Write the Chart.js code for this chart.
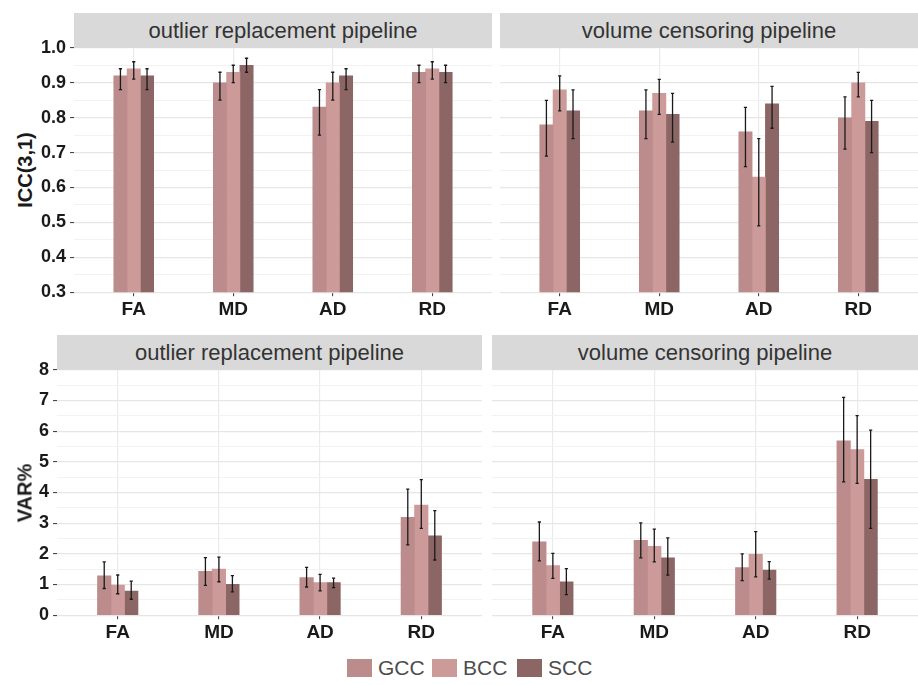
<!DOCTYPE html>
<html>
<head>
<meta charset="utf-8">
<script src="https://cdn.jsdelivr.net/npm/chart.js@4.4.1/dist/chart.umd.min.js"></script>
<style>
  body { margin: 0; background: #fff; }
  #page { position: relative; width: 918px; height: 685px; overflow: hidden; background: #fff;
          font-family: "Liberation Sans", Arial, Helvetica, sans-serif; }
  canvas { position: absolute; }
  .strip { position: absolute; background: #d9d9d9; color: #333; font-size: 22px;
           display: flex; align-items: center; justify-content: center; z-index: 2; }
  .ytitle { position: absolute; font-size: 20px; font-weight: bold; color: #1a1a1a;
            transform: translate(-50%, -50%) rotate(-90deg); white-space: nowrap; }
  .key { position: absolute; width: 25px; height: 18px; }
  .keytxt { position: absolute; font-size: 21px; color: #4d4d4d; line-height: 18px; }
</style>
</head>
<body>
<div id="page">
  <canvas id="c1"></canvas>
  <canvas id="c2"></canvas>
  <canvas id="c3"></canvas>
  <canvas id="c4"></canvas>
  <div class="strip" style="left:74px;top:13px;width:418px;height:35px">outlier replacement pipeline</div>
  <div class="strip" style="left:500px;top:13px;width:418px;height:35px">volume censoring pipeline</div>
  <div class="strip" style="left:57px;top:335px;width:425px;height:35px">outlier replacement pipeline</div>
  <div class="strip" style="left:492px;top:335px;width:426px;height:35px">volume censoring pipeline</div>
  <div class="ytitle" style="left:25px;top:170px">ICC(3,1)</div>
  <div class="ytitle" style="left:25px;top:493px">VAR%</div>
  <div id="legend"></div>
</div>
<script>
// categories and groups
const categories = ['FA', 'MD', 'AD', 'RD'];
const seriesNames = ['GCC', 'BCC', 'SCC'];
const seriesColors = ['#bc8b8b', '#cd9a9a', '#8c6565'];

// ICC(3,1), outlier replacement pipeline
const icc_or_gcc = [0.92, 0.90, 0.83, 0.93];
const icc_or_bcc = [0.94, 0.93, 0.90, 0.94];
const icc_or_scc = [0.92, 0.95, 0.92, 0.93];
const icc_or_gcc_err = [[0.88, 0.94], [0.85, 0.93], [0.75, 0.88], [0.90, 0.95]];
const icc_or_bcc_err = [[0.91, 0.96], [0.90, 0.95], [0.85, 0.93], [0.91, 0.96]];
const icc_or_scc_err = [[0.88, 0.94], [0.93, 0.97], [0.88, 0.94], [0.90, 0.95]];

// ICC(3,1), volume censoring pipeline
const icc_vc_gcc = [0.78, 0.82, 0.76, 0.80];
const icc_vc_bcc = [0.88, 0.87, 0.63, 0.90];
const icc_vc_scc = [0.82, 0.81, 0.84, 0.79];
const icc_vc_gcc_err = [[0.69, 0.85], [0.74, 0.88], [0.66, 0.83], [0.71, 0.86]];
const icc_vc_bcc_err = [[0.82, 0.92], [0.81, 0.91], [0.49, 0.74], [0.86, 0.93]];
const icc_vc_scc_err = [[0.74, 0.88], [0.73, 0.87], [0.77, 0.89], [0.70, 0.85]];

// VAR%, outlier replacement pipeline
const var_or_gcc = [1.28, 1.43, 1.23, 3.19];
const var_or_bcc = [0.98, 1.50, 1.06, 3.59];
const var_or_scc = [0.79, 1.01, 1.06, 2.59];
const var_or_gcc_err = [[0.87, 1.74], [0.97, 1.88], [0.92, 1.56], [2.29, 4.11]];
const var_or_bcc_err = [[0.70, 1.31], [1.09, 1.89], [0.79, 1.33], [2.83, 4.42]];
const var_or_scc_err = [[0.52, 1.11], [0.76, 1.29], [0.90, 1.21], [1.80, 3.41]];

// VAR%, volume censoring pipeline
const var_vc_gcc = [2.39, 2.44, 1.55, 5.69];
const var_vc_bcc = [1.62, 2.25, 1.99, 5.40];
const var_vc_scc = [1.09, 1.87, 1.47, 4.43];
const var_vc_gcc_err = [[1.77, 3.04], [1.87, 3.01], [1.13, 2.00], [4.35, 7.11]];
const var_vc_bcc_err = [[1.20, 2.02], [1.74, 2.81], [1.25, 2.73], [4.30, 6.51]];
const var_vc_scc_err = [[0.67, 1.52], [1.31, 2.52], [1.18, 1.75], [2.83, 6.04]];

Chart.defaults.font.family = '"Liberation Sans", Arial, Helvetica, sans-serif';

const errorBars = {
    id: 'errorBars',
    afterDatasetsDraw(chart) {
        const ctx = chart.ctx;
        const y = chart.scales.y;
        ctx.save();
        ctx.strokeStyle = '#1a1a1a';
        ctx.lineWidth = 1.3;
        chart.data.datasets.forEach((ds, di) => {
            chart.getDatasetMeta(di).data.forEach((bar, i) => {
                const yl = y.getPixelForValue(ds.errors[i][0]);
                const yh = y.getPixelForValue(ds.errors[i][1]);
                ctx.beginPath();
                ctx.moveTo(bar.x, yl); ctx.lineTo(bar.x, yh);
                ctx.moveTo(bar.x - 1.6, yl); ctx.lineTo(bar.x + 1.6, yl);
                ctx.moveTo(bar.x - 1.6, yh); ctx.lineTo(bar.x + 1.6, yh);
                ctx.stroke();
            });
        });
        ctx.restore();
    }
};

const makeConfig = (values, errors, yMin, yMax, minorStep, majorStep, showY, barW) => {
    const isMajor = v => Math.abs(v / majorStep - Math.round(v / majorStep)) < 1e-6;
    return {
        type: 'bar',
        data: {
            datasets: values.map((vals, s) => ({
                label: seriesNames[s],
                data: vals.map((v, i) => ({x: i + 1, y: v})),
                errors: errors[s],
                backgroundColor: seriesColors[s],
                borderWidth: 0,
                barThickness: barW
            }))
        },
        options: {
            responsive: false,
            animation: false,
            layout: {padding: 0},
            plugins: {legend: {display: false}, tooltip: {enabled: false}},
            scales: {
                x: {
                    type: 'linear',
                    min: 0.4,
                    max: 4.6,
                    offset: false,
                    afterBuildTicks: s => { s.ticks = categories.map((c, i) => ({value: i + 1})); },
                    grid: {offset: false, color: '#ebebeb', lineWidth: 1.2, tickLength: 4, tickColor: '#333', tickWidth: 1},
                    border: {display: false},
                    ticks: {
                        autoSkip: false,
                        maxRotation: 0,
                        padding: 2,
                        color: '#1a1a1a',
                        font: {size: 19, weight: 'bold'},
                        callback: v => categories[Math.round(v) - 1]
                    }
                },
                y: {
                    min: yMin,
                    max: yMax,
                    grid: {
                        color: c => isMajor(c.tick.value) ? '#e6e6e6' : '#f2f2f2',
                        lineWidth: c => isMajor(c.tick.value) ? 1.2 : 1,
                        drawTicks: showY,
                        tickLength: 4,
                        tickWidth: 1,
                        tickColor: c => isMajor(c.tick.value) ? '#333' : 'rgba(0,0,0,0)'
                    },
                    border: {display: false},
                    ticks: {
                        display: showY,
                        stepSize: minorStep,
                        autoSkip: false,
                        padding: 4,
                        color: '#1a1a1a',
                        font: {size: 18, weight: 'bold'},
                        callback: v => isMajor(v) ? (majorStep < 1 ? v.toFixed(1) : String(Math.round(v))) : ''
                    }
                }
            }
        },
        plugins: [errorBars]
    };
};

// builds the chart, then sizes and moves the canvas so its plot area sits on the panel box
const buildPanel = (id, box, cfgFn) => {
    const cv = document.getElementById(id);
    cv.width = box.w + 100;
    cv.height = box.h + 60;
    let chart = new Chart(cv, cfgFn());
    let a = chart.chartArea;
    const w = Math.round(cv.width + box.w - (a.right - a.left));
    const h = Math.round(cv.height + box.h - (a.bottom - a.top));
    chart.destroy();
    cv.width = w;
    cv.height = h;
    chart = new Chart(cv, cfgFn());
    a = chart.chartArea;
    cv.style.left = (box.x - a.left) + 'px';
    cv.style.top = (box.y - a.top) + 'px';
    return chart;
};

buildPanel('c1', {x: 74, y: 48, w: 418, h: 244}, () => makeConfig(
    [icc_or_gcc, icc_or_bcc, icc_or_scc], [icc_or_gcc_err, icc_or_bcc_err, icc_or_scc_err],
    0.3, 1.0, 0.05, 0.1, true, 13.3));
buildPanel('c2', {x: 500, y: 48, w: 418, h: 244}, () => makeConfig(
    [icc_vc_gcc, icc_vc_bcc, icc_vc_scc], [icc_vc_gcc_err, icc_vc_bcc_err, icc_vc_scc_err],
    0.3, 1.0, 0.05, 0.1, false, 13.3));
buildPanel('c3', {x: 57, y: 370, w: 425, h: 245}, () => makeConfig(
    [var_or_gcc, var_or_bcc, var_or_scc], [var_or_gcc_err, var_or_bcc_err, var_or_scc_err],
    0, 8, 0.5, 1, true, 13.5));
buildPanel('c4', {x: 492, y: 370, w: 426, h: 245}, () => makeConfig(
    [var_vc_gcc, var_vc_bcc, var_vc_scc], [var_vc_gcc_err, var_vc_bcc_err, var_vc_scc_err],
    0, 8, 0.5, 1, false, 13.5));

// shared legend
const legend = document.getElementById('legend');
const keyLeft = [347, 432, 517];
seriesNames.forEach((name, s) => {
    const k = document.createElement('div');
    k.className = 'key';
    k.style.left = keyLeft[s] + 'px';
    k.style.top = '659px';
    k.style.background = seriesColors[s];
    legend.appendChild(k);
    const t = document.createElement('div');
    t.className = 'keytxt';
    t.style.left = (keyLeft[s] + 31) + 'px';
    t.style.top = '659px';
    t.textContent = name;
    legend.appendChild(t);
});
</script>
</body>
</html>
